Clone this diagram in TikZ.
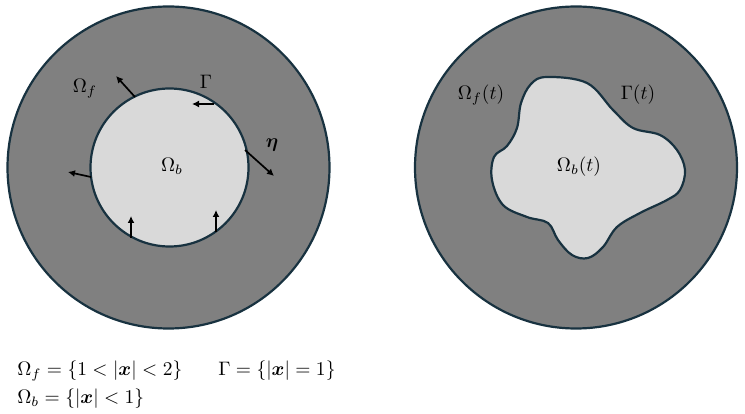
\documentclass[tikz,border=0pt]{standalone}
\usepackage{amsmath,bm}
\usetikzlibrary{arrows.meta}
\definecolor{outerfill}{RGB}{128,128,128}
\definecolor{innerfill}{RGB}{217,217,217}
\definecolor{edge}{RGB}{24,50,64}
\tikzset{
  region/.style={draw=edge,line width=2.2pt},
  normalarrow/.style={draw=black,line width=1.7pt,-{Latex[length=7pt,width=7pt]}},
  lbl/.style={inner sep=0pt,scale=1.95},
}
\begin{document}
\begin{tikzpicture}[x=1pt,y=-1pt]
\useasboundingbox (0,0) rectangle (745,414);
% left picture
\draw[region,fill=outerfill] (168.5,167.5) circle[radius=161];
\draw[region,fill=innerfill] (169.5,167.5) circle[radius=79];
% right picture
\draw[region,fill=outerfill] (576,167.5) circle[radius=161];
\draw[region,fill=innerfill] plot[smooth cycle,tension=0.6] coordinates {
  (547,77) (587,83) (613,110) (633,128) (660,135) (677,150) (685,170)
  (680,190) (667,200) (640,213) (617,227) (603,247) (588,258) (572,255)
  (558,240) (548,223) (527,217) (503,205) (492,180) (494,157) (507,146)
  (517,128) (521,103) (531,84)};
% arrow coordinates
\coordinate (a1s) at (135,97);  \coordinate (a1e) at (116,76);
\coordinate (a2s) at (214,104); \coordinate (a2e) at (192,104);
\coordinate (a3s) at (245,150); \coordinate (a3e) at (274,176);
\coordinate (a4s) at (91,177);  \coordinate (a4e) at (68,172);
\coordinate (a5s) at (131,238); \coordinate (a5e) at (131,216);
\coordinate (a6s) at (216,232); \coordinate (a6e) at (216,210);
\draw[normalarrow] (a1s) -- (a1e);
\draw[normalarrow] (a2s) -- (a2e);
\draw[normalarrow] (a3s) -- (a3e);
\draw[normalarrow] (a4s) -- (a4e);
\draw[normalarrow] (a5s) -- (a5e);
\draw[normalarrow] (a6s) -- (a6e);
% labels left
\node[lbl] (omf) at (85,89) {$\Omega_f$};
\node[lbl] (gam) at (206,82) {$\Gamma$};
\node[lbl] (eta) at (272,145) {$\bm{\eta}$};
\node[lbl] (omb) at (172,166) {$\Omega_b$};
% labels right
\node[lbl] (omft) at (481,95) {$\Omega_f(t)$};
\node[lbl] (gamt) at (638,95) {$\Gamma(t)$};
\node[lbl] (ombt) at (579,167) {$\Omega_b(t)$};
% definitions
\node[lbl,anchor=west] (def1) at (17,371) {$\Omega_f=\{1<|\bm{x}|<2\}$};
\node[lbl,anchor=west] (def2) at (218,371) {$\Gamma=\{|\bm{x}|=1\}$};
\node[lbl,anchor=west] (def3) at (17,399) {$\Omega_b=\{|\bm{x}|<1\}$};
\end{tikzpicture}
\end{document}
